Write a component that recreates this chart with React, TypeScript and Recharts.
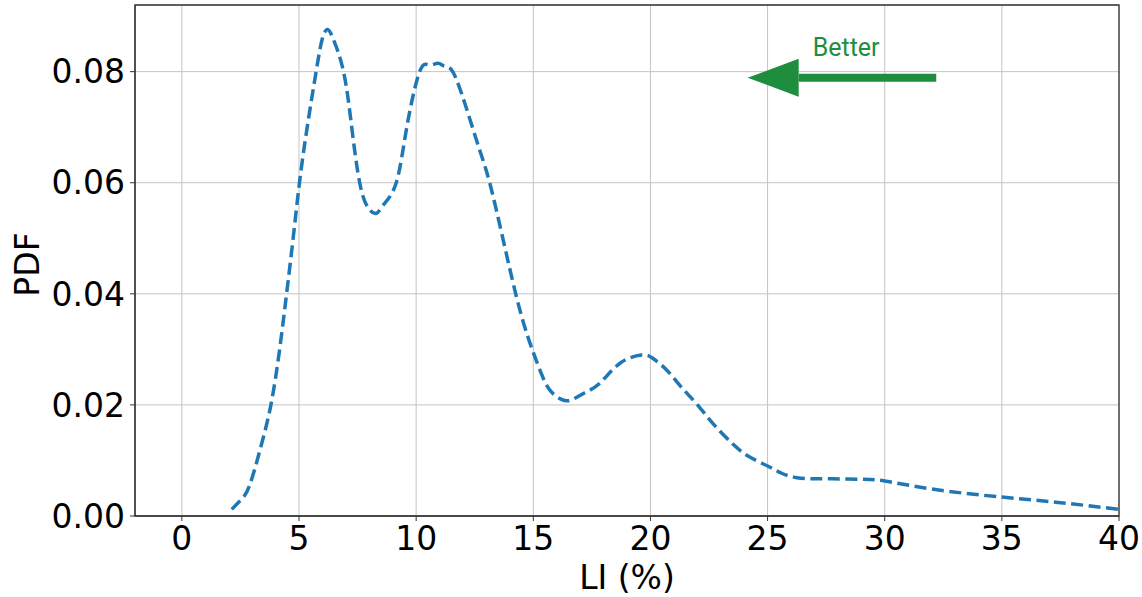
import React from 'react';
import {
  LineChart,
  Line,
  XAxis,
  YAxis,
  CartesianGrid,
  ReferenceArea,
  ReferenceLine,
} from 'recharts';

// LI (%) values where the curve was read
const liValues = [
  2.13, 2.5, 2.88, 3.38, 3.81, 4.17, 4.47, 4.75, 5.02, 5.35, 5.73, 6.0, 6.22, 6.45, 6.9,
  7.25, 7.59, 7.95, 8.3, 8.6, 9.15, 9.6, 10.15, 10.55, 10.93, 11.2, 11.56, 12.1, 12.71,
  13.14, 13.7, 14.25, 14.75, 15.28, 15.7, 16.2, 16.63, 17.2, 17.84, 18.7, 19.62, 20.1,
  20.69, 21.3, 21.97, 22.7, 23.53, 24.2, 25.0, 25.6, 26.25, 27.0, 27.81, 29.0, 30.0,
  32.09, 35.0, 37.5, 40.0,
];

// PDF values for each LI point
const pdfValues = [
  0.0012, 0.0028, 0.0054, 0.0126, 0.0202, 0.0299, 0.04, 0.05, 0.06, 0.07, 0.08, 0.086,
  0.0876, 0.086, 0.08, 0.07, 0.06, 0.0555, 0.0545, 0.056, 0.06, 0.07, 0.08, 0.0812, 0.0815,
  0.081, 0.08, 0.074, 0.0659, 0.06, 0.05, 0.04, 0.0325, 0.0263, 0.0227, 0.021, 0.0209,
  0.0222, 0.0239, 0.0275, 0.029, 0.0284, 0.0263, 0.0233, 0.0202, 0.0165, 0.0129, 0.0107,
  0.009, 0.0077, 0.0069, 0.0067, 0.0067, 0.0066, 0.0063, 0.0048, 0.0034, 0.0024, 0.0012,
];

const xTicks = [0, 5, 10, 15, 20, 25, 30, 35, 40];
const yTicks = [0, 0.02, 0.04, 0.06, 0.08];

// arrow annotation: from tail to tip, in data units
const arrowTail = { x: 32.2, y: 0.0789 };
const arrowTip = { x: 24.15, y: 0.0789 };
const arrowLabel = 'Better';

const data = liValues.map((li, i) => ({ li, pdf: pdfValues[i] }));

const GREEN = '#1e8e3e';
const BLUE = '#1f77b4';
const tickFont = { fontFamily: 'DejaVu Sans', fontSize: 33, fill: '#000' };

const ArrowShape = (props: any) => {
  const { x1, y1, x2, y2 } = props;
  if (x1 == null || x2 == null) return null;
  const headLen = 51;
  const headHalf = 19;
  const baseX = x2 + headLen;
  return (
    <g>
      <line x1={x1} y1={y1} x2={baseX} y2={y2} stroke={GREEN} strokeWidth={8} />
      <polygon
        points={`${x2},${y2} ${baseX},${y2 - headHalf} ${baseX},${y2 + headHalf}`}
        fill={GREEN}
      />
      <text
        x={x2 + 65}
        y={y2 - 22}
        fill={GREEN}
        fontFamily="Roboto"
        fontSize={25}
      >
        {arrowLabel}
      </text>
    </g>
  );
};

const YLabel = (props: any) => {
  const vb = props.viewBox || { x: 0, y: 0, width: 135, height: 511 };
  const cx = vb.x + 27;
  const cy = vb.y + vb.height / 2 + 4;
  return (
    <text
      x={cx}
      y={cy}
      transform={`rotate(-90, ${cx}, ${cy})`}
      textAnchor="middle"
      dominantBaseline="central"
      fontFamily="DejaVu Sans"
      fontSize={33}
      fill="#000"
    >
      PDF
    </text>
  );
};

export default function App() {
  return (
    <div style={{ position: 'absolute', left: 0, top: 0, background: '#fff' }}>
      <LineChart
        width={1142}
        height={597}
        data={data}
        margin={{ top: 5, right: 23, bottom: 0, left: 0 }}
      >
        <CartesianGrid stroke="#c4c4c4" strokeWidth={1} />
        <XAxis
          dataKey="li"
          type="number"
          domain={[-2, 40]}
          ticks={xTicks}
          allowDataOverflow
          height={81}
          tick={tickFont}
          tickSize={5}
          tickMargin={6}
          stroke="#333"
          label={{
            value: 'LI (%)',
            position: 'insideBottom',
            offset: 8,
            style: { fontFamily: 'DejaVu Sans', fontSize: 33, fill: '#000', textAnchor: 'middle' },
          }}
        />
        <YAxis
          type="number"
          domain={[0, 0.092]}
          ticks={yTicks}
          allowDataOverflow
          width={135}
          tick={tickFont}
          tickSize={5}
          tickMargin={5}
          stroke="#333"
          tickFormatter={(v: number) => v.toFixed(2)}
          label={<YLabel />}
        />
        <ReferenceArea
          x1={-2}
          x2={40}
          y1={0}
          y2={0.092}
          fill="none"
          stroke="#333"
          strokeWidth={1.3}
          fillOpacity={0}
        />
        <Line
          type="natural"
          dataKey="pdf"
          stroke={BLUE}
          strokeWidth={3.5}
          strokeDasharray="12 5.5"
          dot={false}
          isAnimationActive={false}
        />
        <ReferenceLine
          segment={[arrowTail, arrowTip]}
          shape={ArrowShape}
          ifOverflow="visible"
        />
      </LineChart>
    </div>
  );
}
